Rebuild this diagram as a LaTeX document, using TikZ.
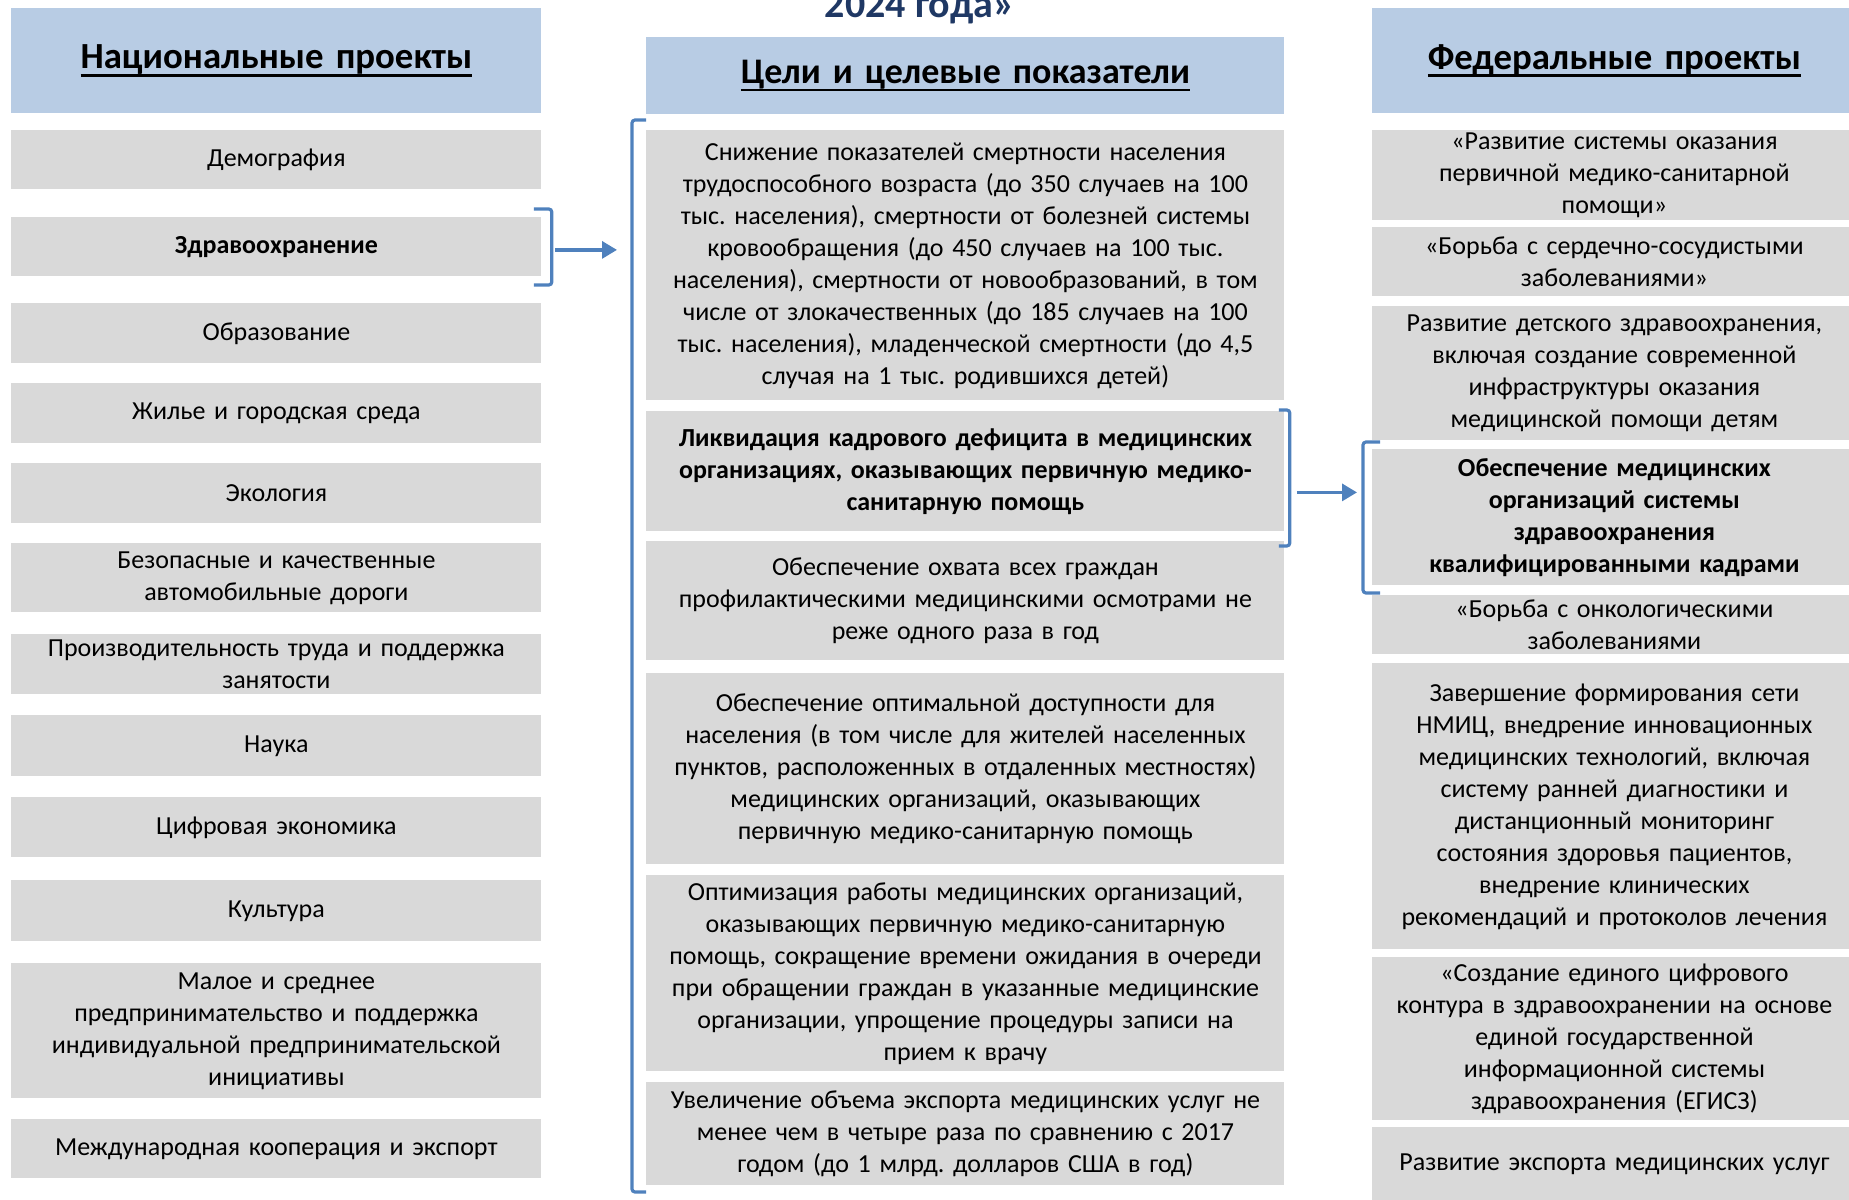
\documentclass[tikz,border=0pt]{standalone}
\usepackage{fontspec}
\setmainfont{Carlito}
\usetikzlibrary{calc,arrows.meta}
\definecolor{headblue}{HTML}{B8CCE4}
\definecolor{boxgray}{HTML}{D9D9D9}
\definecolor{brblue}{HTML}{4F81BD}
\definecolor{navy}{HTML}{1F3864}
\newsavebox{\hdrbox}
\newcommand{\hdrline}[1]{\sbox{\hdrbox}{#1}\rlap{\rule[-3.9pt]{\wd\hdrbox}{1.4pt}}\usebox{\hdrbox}}
\frenchspacing

\begin{document}
\begin{tikzpicture}[x=0.5pt,y=-0.5pt,inner xsep=3pt,inner ysep=1pt]
        \tikzstyle{base}=[anchor=north west,align=center,font=\fontsize{13}{16}\selectfont]
        \tikzstyle{head}=[base,fill=headblue,font=\fontsize{18.4}{23}\selectfont\bfseries]
        \tikzstyle{item}=[base,fill=boxgray]
        \tikzstyle{hot}=[font=\fontsize{13}{16}\selectfont\bfseries]
        \tikzstyle{natcol}=[minimum width=265pt,text width=259pt]
        \tikzstyle{goalcol}=[minimum width=319pt,text width=313pt]
        \tikzstyle{fedcol}=[minimum width=242pt,text width=236pt]
        \tikzstyle{brace}=[draw=brblue,line width=1.6pt,rounded corners=1.5pt]
        \tikzstyle{arrow}=[draw=brblue,line width=1.6pt,-{Triangle[length=7.5pt,width=8.5pt]}]

        \useasboundingbox (0,0) rectangle (1849,1200);
        \clip (0,0) rectangle (1849,1200);

        \node[font=\fontsize{20}{24}\selectfont\bfseries,text=navy,anchor=base] (T) at (920,17) {2024 года»};

        % national projects
        \node[head,natcol,minimum height=52.5pt] (N0) at (11,8)    {\hdrline{Национальные проекты}};
        \node[item,natcol,minimum height=29.5pt] (N1) at (11,130)  {Демография};
        \node[item,natcol,hot,minimum height=29.5pt] (N2) at (11,217) {Здравоохранение};
        \node[item,natcol,minimum height=30pt]   (N3) at (11,303)  {Образование};
        \node[item,natcol,minimum height=30pt]   (N4) at (11,383)  {Жилье и городская среда};
        \node[item,natcol,minimum height=30pt]   (N5) at (11,463)  {Экология};
        \node[item,natcol,minimum height=34.5pt] (N6) at (11,543)  {Безопасные и качественные\\автомобильные дороги};
        \node[item,natcol,minimum height=30pt]   (N7) at (11,634)  {Производительность труда и поддержка\\занятости};
        \node[item,natcol,minimum height=30.5pt] (N8) at (11,715)  {Наука};
        \node[item,natcol,minimum height=30pt]   (N9) at (11,797)  {Цифровая экономика};
        \node[item,natcol,minimum height=30.5pt] (N10) at (11,880) {Культура};
        \node[item,natcol,minimum height=67.5pt] (N11) at (11,963) {Малое и среднее\\предпринимательство и поддержка\\индивидуальной предпринимательской\\инициативы};
        \node[item,natcol,minimum height=29.5pt] (N12) at (11,1119) {Международная кооперация и экспорт};

        % goals
        \node[head,goalcol,minimum height=38.5pt,font=\fontsize{18}{23}\selectfont\bfseries] (G0) at (646,37) {\hdrline{Цели и целевые показатели}};
        \node[item,goalcol,minimum height=135pt] (G1) at (646,130) {Снижение показателей смертности населения\\трудоспособного возраста (до 350 случаев на 100\\тыс. населения), смертности от болезней системы\\кровообращения (до 450 случаев на 100 тыс.\\населения), смертности от новообразований, в том\\числе от злокачественных (до 185 случаев на 100\\тыс. населения), младенческой смертности (до 4,5\\случая на 1 тыс. родившихся детей)};
        \node[item,goalcol,hot,minimum height=60pt] (G2) at (646,411) {Ликвидация кадрового дефицита в медицинских\\организациях, оказывающих первичную медико-\\санитарную помощь};
        \node[item,goalcol,minimum height=59.5pt] (G3) at (646,541) {Обеспечение охвата всех граждан\\профилактическими медицинскими осмотрами не\\реже одного раза в год};
        \node[item,goalcol,minimum height=95.5pt] (G4) at (646,673) {Обеспечение оптимальной доступности для\\населения (в том числе для жителей населенных\\пунктов, расположенных в отдаленных местностях)\\медицинских организаций, оказывающих\\первичную медико-санитарную помощь};
        \node[item,goalcol,minimum height=98pt] (G5) at (646,875) {Оптимизация работы медицинских организаций,\\оказывающих первичную медико-санитарную\\помощь, сокращение времени ожидания в очереди\\при обращении граждан в указанные медицинские\\организации, упрощение процедуры записи на\\прием к врачу};
        \node[item,goalcol,minimum height=51.5pt] (G6) at (646,1082) {Увеличение объема экспорта медицинских услуг не\\менее чем в четыре раза по сравнению с 2017\\годом (до 1 млрд. долларов США в год)};

        % federal projects
        \node[head,fedcol,minimum height=52.5pt] (F0) at (1372,8)  {\hdrline{Федеральные проекты}};
        \node[item,fedcol,minimum height=45pt]   (F1) at (1372,130) {«Развитие системы оказания\\первичной медико-санитарной\\помощи»};
        \node[item,fedcol,minimum height=34.5pt] (F2) at (1372,227) {«Борьба с сердечно-сосудистыми\\заболеваниями»};
        \node[item,fedcol,minimum height=67pt]   (F3) at (1372,306) {Развитие детского здравоохранения,\\включая создание современной\\инфраструктуры оказания\\медицинской помощи детям};
        \node[item,fedcol,hot,minimum height=68pt] (F4) at (1372,449) {Обеспечение медицинских\\организаций системы\\здравоохранения\\квалифицированными кадрами};
        \node[item,fedcol,minimum height=29.5pt] (F5) at (1372,595) {«Борьба с онкологическими\\заболеваниями};
        \node[item,fedcol,minimum height=143pt]  (F6) at (1372,663) {Завершение формирования сети\\НМИЦ, внедрение инновационных\\медицинских технологий, включая\\систему ранней диагностики и\\дистанционный мониторинг\\состояния здоровья пациентов,\\внедрение клинических\\рекомендаций и протоколов лечения};
        \node[item,fedcol,minimum height=81.5pt] (F7) at (1372,957) {«Создание единого цифрового\\контура в здравоохранении на основе\\единой государственной\\информационной системы\\здравоохранения (ЕГИСЗ)};
        \node[item,fedcol,minimum height=36.5pt] (F8) at (1372,1127) {Развитие экспорта медицинских услуг};

        % brackets
        \draw[brace] ($(N2.north east)+(-8,-8)$) -- ++(18,0) -- ++(0,76) -- ++(-18,0);
        \draw[brace] ($(G1.north west)+(0,-10)$) -- ++(-14,0) -- ++(0,1072) -- ++(14,0);
        \draw[brace] ($(G2.north east)+(-6,-1)$) -- ++(11,0) -- ++(0,136) -- ++(-11,0);
        \draw[brace] ($(F4.north west)+(8,-7)$) -- ++(-17,0) -- ++(0,151) -- ++(17,0);

        \coordinate (brN) at ($(N2.east)+(10,3)$);
        \coordinate (brG) at ($(G1.west)+(-14,0)$);
        \coordinate (brG2) at ($(G2.east)+(5,21)$);
        \coordinate (brF) at ($(F4.west)+(-9,0)$);

        \draw[arrow,shorten <=1.5pt,shorten >=7.5pt] (brN) -- (brN -| brG);
        \draw[arrow,shorten <=3.5pt,shorten >=3pt] (brG2) -- (brG2 -| brF);
\end{tikzpicture}
\end{document}
